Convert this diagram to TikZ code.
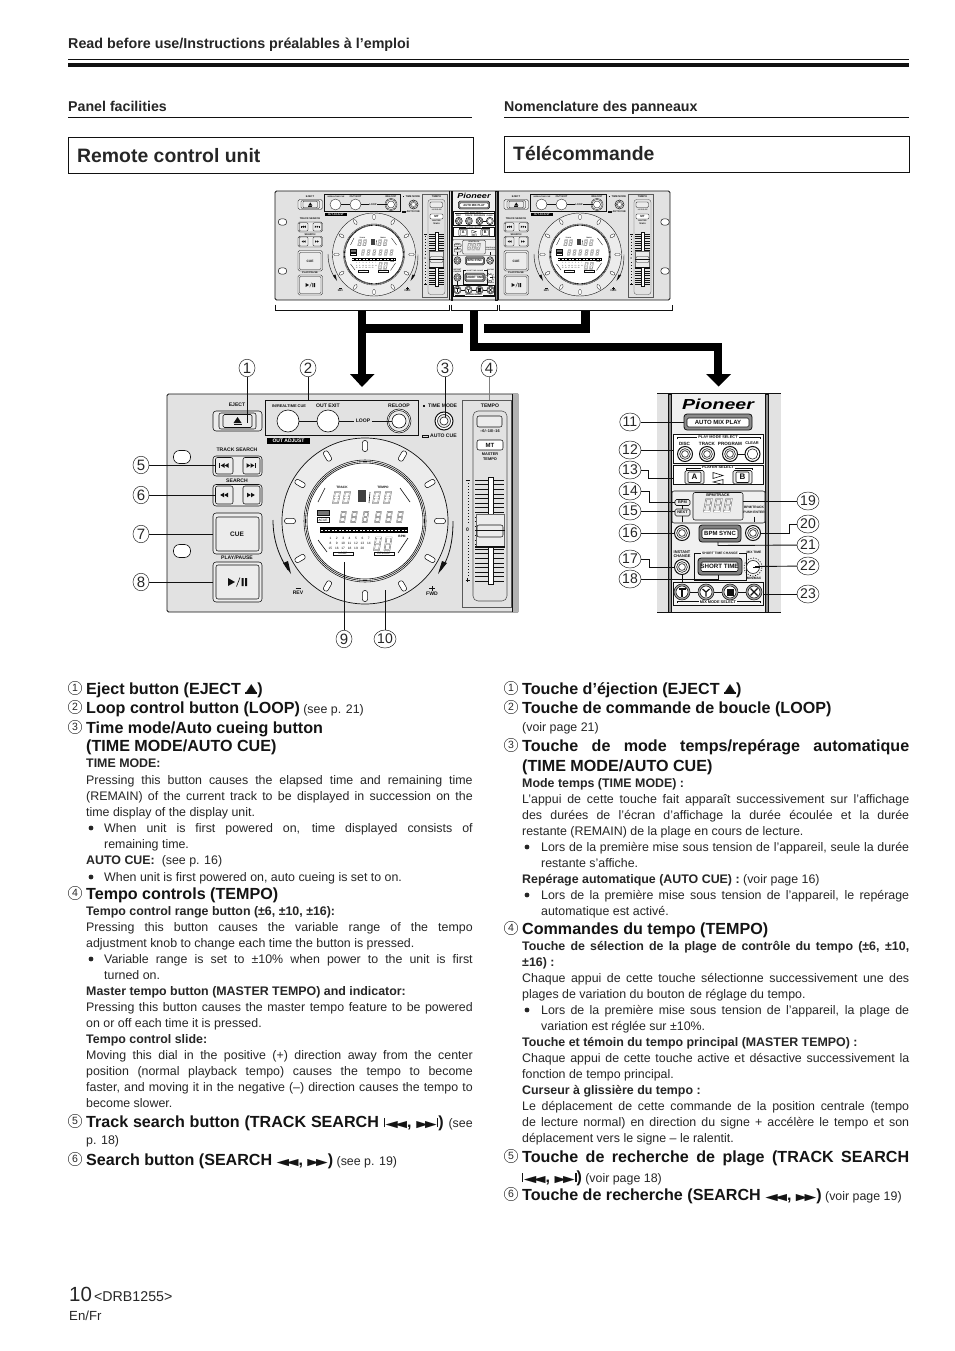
\documentclass[tikz,border=0pt]{standalone}
\usepackage{fontspec}
\usepackage{graphicx}
\setmainfont{Liberation Sans}
\newfontfamily\djf{DejaVu Sans}
\definecolor{tx}{HTML}{262626}
\definecolor{pg}{HTML}{E2E2E2}
\definecolor{ln}{HTML}{111111}
\definecolor{btn}{HTML}{ECECEC}
\newcounter{tn}
\def\lwf{1}
\def\bsl{4.3}
\def\hsl{6.2}
\newcommand\hb{\fontsize{16.1}{18}\selectfont\bfseries\color{black!92}}
\newcommand\tl[3]{\stepcounter{tn}\node[txt] (tl\arabic{tn}) at (#1,#2+\bsl) {#3};}
\newcommand\hl[3]{\stepcounter{tn}\node[txt] (tl\arabic{tn}) at (#1,#2+\hsl) {\hb #3};}
\newcommand\jl[4]{\stepcounter{tn}\node[txt] (tl\arabic{tn}) at (#1,#2+\bsl) {\hbox to #3pt{\spaceskip=.28em plus 1fil minus .08em\relax #4}};}
\newcommand\jh[4]{\stepcounter{tn}\node[txt] (tl\arabic{tn}) at (#1,#2+\hsl) {\hbox to #3pt{\hb\spaceskip=.28em plus 1fil minus .08em\relax #4}};}
\newcommand\tc[3]{\stepcounter{tn}\node[tcirc] (tc\arabic{tn}) at (#1,#2) {#3};}
\newcommand\bul[2]{\fill[tx] (#1,#2) circle[radius=2.4pt];}
\newcommand\ejs{\vbox{\hbox{\scalebox{1.25}[1]{\fontsize{12.5}{12}\djf ▲}}\kern-1.2pt\hrule height 1.8pt}}
\newcommand\twol{\scalebox{1.55}[.9]{\fontsize{10.5}{11}\djf ◀\kern-.2em◀}}
\newcommand\twor{\scalebox{1.45}[.9]{\fontsize{10.5}{11}\djf ▶\kern-.2em▶}}
\newcommand\prv{\rule{1.1pt}{.6em}\kern.5pt\twol}
\newcommand\nxt{\twor\kern.5pt\rule{1.1pt}{.6em}}
\newcommand\rf{\fontsize{12.4}{14}\selectfont\mdseries\color{tx}}
\newcommand\ttri[3]{\fill[ln] (#1,#2-2.3)--(#1+#3*3.8,#2)--(#1,#2+2.3)--cycle;}
\newcommand\knob[3]{%
  \draw[bt,fill=white,line width=\lwf*1pt] (#1,#2) circle[radius=#3pt];
  \draw[bt,fill=btn] (#1,#2) circle[radius=#3pt*.72];
  \draw[bt,fill=white] (#1,#2) circle[radius=#3pt*.45];}
\newcommand\segd[4]{%
  \foreach \pw/\pc in {1.35/black!65,.55/white}{
  \draw[line width=\lwf*\pw pt*#4,color=\pc,line join=miter]
    (#1+2*#4,#2) -- (#1+7*#4,#2) -- (#1+5*#4,#2+#3) -- (#1,#2+#3) -- cycle
    (#1+1*#4,#2+#3/2) -- (#1+6*#4,#2+#3/2);}}
\newcommand\bkt[3]{\draw[bl] (#1,#3+1.5)--(#1,#3)--(#2,#3)--(#2,#3+1.5);}
\newcommand\callout[7]{% name x y text style endx endy
  \node[#5] (#1) at (#2,#3) {#4}; \coordinate (#1e) at (#6,#7); \draw[cl] (#1) -- (#1e);}
\usetikzlibrary{shapes.geometric}
\tikzset{
  txt/.style={anchor=base west,inner sep=0pt,text=tx,font=\fontsize{12.4}{14}\selectfont},
  tcirc/.style={circle,draw=tx,line width=.45pt,inner sep=0pt,minimum size=13.5pt,text=tx,font=\fontsize{10.5}{11}\selectfont},
  co/.style={ellipse,draw=tx,line width=.5pt,inner sep=0pt,minimum width=16pt,minimum height=17.5pt,text=tx,font=\fontsize{15}{15}\selectfont},
  coo/.style={ellipse,draw=tx,line width=.5pt,inner sep=0pt,minimum width=20pt,minimum height=18pt,text=tx,font=\fontsize{14}{14}\selectfont},
  cl/.style={draw=ln,line width=.9pt},
  lab/.style={inner sep=0pt,text=ln,font=\fontsize{5.1}{6}\selectfont\bfseries},
  labt/.style={inner sep=0pt,text=ln,font=\fontsize{4.6}{6}\selectfont\bfseries},
  labs/.style={inner sep=0pt,text=ln,font=\fontsize{3.9}{5}\selectfont\bfseries},
  labx/.style={inner sep=0pt,text=ln,font=\fontsize{3.3}{4}\selectfont\bfseries},
  tiny/.style={inner sep=0pt,text=ln,font=\fontsize{3.2}{4}\selectfont},
  bt/.style={draw=ln,line width=\lwf*.55pt,fill=btn},
  bl/.style={draw=ln,line width=\lwf*.6pt},
  rr/.style={rounded corners=\lwf*#1pt},
  hk/.style={line width=8.5pt,draw=black},
}

\newcommand\deckparts[1]{%
  % eject
  \node[lab] (#1-ej) at (237,405) {EJECT};
  \draw[bt,rr=3] (213,411) rectangle (262,431);
  \draw[bt,rr=2] (219,413) rectangle (256,429);
  \draw[bt,rr=1.5] (223,414.5) rectangle (252,427.5);
  \fill[ln] (233.5,423)--(237.5,417)--(241.5,423)--cycle;
  \fill[ln] (233.5,424)rectangle(241.5,425.3);
  % loop box
  \draw[bt,fill=pg] (265,400) rectangle (418,435);
  \node[labs] (#1-in) at (289,406) {IN/REALTIME CUE};
  \node[lab] (#1-oe) at (328,406) {OUT EXIT};
  \node[lab] (#1-rl) at (399,406) {RELOOP};
  \node[draw=ln,fill=white,circle,minimum size=22pt,inner sep=0pt,line width=\lwf*.6pt,transform shape] (#1-bin) at (288,421) {};
  \node[draw=ln,fill=white,circle,minimum size=22pt,inner sep=0pt,line width=\lwf*.6pt,transform shape] (#1-bout) at (328,421) {};
  \draw[bl] (#1-bin) -- (#1-bout);
  \node[lab,inner xsep=1.5pt] (#1-lp) at (363,421) {LOOP};
  \draw[bl] (#1-bout) -- (#1-lp);
  \draw[bt,fill=white] (399,421) circle[radius=12pt];
  \draw[bt,fill=btn] (399,421) circle[radius=10.5pt];
  \node[draw=ln,fill=white,circle,minimum size=14pt,inner sep=0pt,line width=\lwf*.6pt,transform shape] (#1-brl) at (399,421) {};
  \draw[bl] (#1-lp) -- (#1-brl);
  \node[fill=black,text=white,inner sep=0pt,minimum width=43pt,minimum height=6.5pt,font=\fontsize{5}{6}\selectfont\bfseries] (#1-oa) at (288.5,441) {OUT ADJUST};
  % track search
  \node[lab] (#1-ts) at (237,450) {TRACK SEARCH};
  \draw[bt,rr=3] (213,456) rectangle (262,476);
  \draw[bt,rr=2] (215.5,457.5) rectangle (233,474);
  \draw[bt,rr=2] (243,457.5) rectangle (260,474);
  \fill[ln] (219,463.2) rectangle (220,467.8);
  \ttri{224.5}{465.5}{-1} \ttri{228.5}{465.5}{-1}
  \ttri{246.5}{465.5}{1} \ttri{250.5}{465.5}{1}
  \fill[ln] (255,463.2) rectangle (256,467.8);
  \node[lab] (#1-se) at (237,481) {SEARCH};
  \draw[bt,rr=3] (213,484.5) rectangle (262,506);
  \draw[bt,rr=2] (215.5,486) rectangle (233,504);
  \draw[bt,rr=2] (243,486) rectangle (260,504);
  \ttri{224}{495}{-1} \ttri{228}{495}{-1}
  \ttri{247}{495}{1} \ttri{251}{495}{1}
  % cue
  \draw[bt,rr=3] (213,513) rectangle (262,554);
  \draw[bt,rr=2] (216,517) rectangle (259,551);
  \node[inner sep=0pt,text=ln,font=\fontsize{6.5}{7}\selectfont\bfseries] (#1-cue) at (237,534) {CUE};
  \node[lab] (#1-pp) at (237,558) {PLAY/PAUSE};
  \draw[bt,rr=3] (213,562) rectangle (262,602);
  \draw[bt,rr=2] (216,565) rectangle (259,599);
  \fill[ln] (228,578)--(235,582)--(228,586)--cycle;
  \draw[bl] (236.5,586.5)--(240,577.5);
  \fill[ln] (241.5,578) rectangle (243.5,586) (245,578) rectangle (247,586);
  % jog wheel
  \draw[bt,fill=btn,line width=\lwf*.7pt] (365,521) circle[radius=83pt];
  \foreach \a in {0,30,...,330}{
    \draw[bt,fill=white,rr=2.4,rotate around={\a:(365,521)}] (362.4,440.5) rectangle (367.6,451.5);}
  \draw[bt,fill=white] (365,521) circle[radius=61pt];
  \draw[bl] (365,521) circle[radius=59.5pt] (365,521) circle[radius=58pt];
  % display
  \draw[bl] (318,502)--(325,488) (400,488)--(410,502) (318,540)--(327,552) (398,553)--(408,538);
  \node[tiny] (#1-dt) at (342,487) {\bfseries TRACK};
  \node[tiny] (#1-dm) at (383,487) {\bfseries TEMPO};
  \segd{333}{492}{11}{1.0} \segd{343}{492}{11}{1.0}
  \fill[black!75] (358,490) rectangle (366,502);
  \draw[bl] (370,492)--(369,503);
  \segd{373}{492}{11}{1.0} \segd{384}{492}{11}{1.0}
  \draw[bt,fill=black!55] (317,510.5) rectangle (329,515.5);
  \draw[bt,fill=white] (317,517.5) rectangle (329,522.5);
  \node[tiny] (#1-ac) at (323,520) {ACUE};
  \foreach \xd/\nn in {340/a,351/b,362.5/c,375/d,386/e,397/f}{ \segd{\xd}{512}{10}{.85}}
  \fill[black] (320,527) rectangle (408,533);
  \draw[white,line width=\lwf*.5pt,dash pattern=on 2.2pt off 1.3pt] (321,530)--(407,530);
  \foreach \i in {1,...,7}{\node[tiny] (#1-na\i) at (324+6.4*\i,538) {\i};}
  \foreach \i/\p in {8/1,9/2,10/3,11/4,12/5,13/6,14/7}{\node[tiny] (#1-nb\i) at (324+6.4*\p,543) {\i};}
  \foreach \i/\p in {15/1,16/2,17/3,18/4,19/5,20/6}{\node[tiny] (#1-nc\i) at (324+6.4*\p,548) {\i};}
  \segd{374}{537.5}{12.5}{1.0} \segd{384.5}{537.5}{12.5}{1.0}
  \node[tiny] (#1-bpm) at (402,536) {\bfseries BPM};
  \draw[bt,fill=white] (333,552) rectangle (353,555.5);
  \node[tiny] (#1-lo) at (343,553.7) {LOOP};
  \draw[bt,fill=white] (374,552) rectangle (394,555.5);
  \node[tiny] (#1-rel) at (384,553.7) {RELOOP};
  % arrows
  \draw[draw=ln,line width=\lwf*.8pt] (273,520) .. controls (273,540) and (279,556) .. (288,570);
  \fill[ln] (283,563)--(288,561)--(291,574)--cycle;
  \draw[draw=ln,line width=\lwf*.8pt] (453,521) .. controls (453,540) and (450,556) .. (441,570);
  \fill[ln] (447,563)--(442,561)--(438,574)--cycle;
  \node[lab] (#1-rev) at (298,593) {REV};
  \draw[bl] (295.5,588)--(300.5,588);
  \node[lab] (#1-fwd) at (432,593.5) {FWD};
  \draw[bl] (429,588.5)--(435,588.5) (432,586)--(432,591);
  % time mode
  \fill[ln] (423,405) rectangle (425,407);
  \node[lab,anchor=west] (#1-tm) at (428,406) {TIME MODE};
  \knob{444}{421}{9}
  \draw[bl] (422,435) rectangle (428,437);
  \node[lab,anchor=west] (#1-au) at (430,436) {AUTO CUE};
  % tempo
  \draw[bt,draw=black!65,fill=pg,line width=\lwf*.8pt] (462,400) rectangle (511,607);
  \node[lab] (#1-te) at (490,406) {TEMPO};
  \draw[bt,fill=pg,draw=black!70,rr=5] (473,411) rectangle (507,601);
  \draw[bt,rr=2,fill=btn] (477,416) rectangle (502,427);
  \node[labs] (#1-rg) at (490,431) {--6/--10/--16};
  \draw[bt,rr=2,fill=white] (477,440) rectangle (503,450);
  \node[inner sep=0pt,text=ln,font=\fontsize{6}{7}\selectfont\bfseries] (#1-mt) at (490,445) {MT};
  \node[labs] (#1-ma) at (490,454) {MASTER};
  \node[labs] (#1-tp) at (490,459.5) {TEMPO};
  \foreach \k in {0,...,22}{\draw[draw=ln,line width=\lwf*.5pt] (475,480+4.6*\k)--(504,480+4.6*\k);}
  \draw[bt,fill=white] (488,477) rectangle (493,584);
  \draw[bt,fill=btn,draw=black!60] (476,514) rectangle (504,547);
  \draw[bt,rr=2,fill=btn] (477,525) rectangle (503,537);
  \draw[bl] (475,530.5)--(505,530.5);
  \draw[draw=ln,line width=\lwf*1.4pt] (475,547)--(505,547);
  \draw[draw=ln,line width=\lwf*.8pt,dash pattern=on 1pt off 2pt] (468,483)--(468,524) (468,536)--(468,577);
  \draw[bl] (465.5,480)--(470,480);
  \node[lab] (#1-z) at (467.5,530) {0};
  \draw[bl] (465.5,580)--(470,580) (467.7,578)--(467.7,582);
}

\newcommand\centerparts[1]{%
  \fill[white!94!black] (668,394) rectangle (768,612);
  \draw[draw=ln,fill=black!45,line width=\lwf*.5pt] (668,394) rectangle (671,612);
  \draw[draw=ln,fill=black!45,line width=\lwf*.5pt] (765,394) rectangle (768,612);
  \node[inner sep=0pt,text=black,font=\fontsize{14.5}{16}\selectfont\bfseries\itshape] (#1-pi) at (718,404) {\scalebox{1.35}[1]{Pioneer}};
  \draw[bt,rr=3,fill=black!45,line width=\lwf*.8pt] (684,414) rectangle (752,430);
  \draw[bt,rr=1.5,fill=white] (687,418) rectangle (749,427);
  \node[inner sep=0pt,text=ln,font=\fontsize{6}{7}\selectfont\bfseries] (#1-am) at (718,422.5) {AUTO MIX PLAY};
  \draw[bt,fill=white,line width=\lwf*.8pt] (673,434) rectangle (763,463);
  \bkt{677}{760}{437.5}
  \node[labs,fill=white,inner xsep=1pt] (#1-pm) at (718,437) {PLAY MODE SELECT};
  \node[labt] (#1-di) at (684.5,443.5) {DISC};
  \node[labt] (#1-tr) at (707,443.5) {TRACK};
  \node[labt] (#1-pr) at (730,443.5) {PROGRAM};
  \node[labs] (#1-cl) at (752,443.5) {CLEAR};
  \knob{685}{454}{7.5} \knob{707}{454}{7.5} \knob{730}{454}{7.5}
  \draw[bl] (737,454)--(745,454);
  \draw[bt,fill=white,line width=\lwf*1pt] (752.5,454) circle[radius=7.5pt];
  \draw[bt,fill=white] (752.5,454) circle[radius=5.2pt];
  \draw[bt,fill=white,line width=\lwf*.8pt] (673,465.5) rectangle (763,484.5);
  \bkt{686}{752}{468}
  \node[labs,fill=white,inner xsep=1pt] (#1-ps) at (718,467.5) {PLAYER SELECT};
  \draw[bt,rr=1.5,fill=btn] (685,470.5) rectangle (704,484);
  \draw[bt,rr=1,fill=white] (688,472) rectangle (701,482.5);
  \node[inner sep=0pt,text=ln,font=\fontsize{8}{8}\selectfont\bfseries] (#1-a) at (694.5,477.2) {A};
  \draw[bt,rr=1.5,fill=btn] (733,470.5) rectangle (752,484);
  \draw[bt,rr=1,fill=white] (736,472) rectangle (749,482.5);
  \node[inner sep=0pt,text=ln,font=\fontsize{8}{8}\selectfont\bfseries] (#1-b) at (742.5,477.2) {B};
  \draw[bl] (713,472.5)--(723,475.5)--(713,478.5)--cycle (723,479.5)--(713,482)--(723,484.5)--cycle;
  % display
  \draw[bt,fill=white!94!black,rr=2] (672,491) -- (765,491) -- (765,523) -- (672,523) -- cycle;
  \draw[bt,fill=btn,rr=2] (693,492.5) rectangle (743,520);
  \node[labs] (#1-bt) at (718,495.5) {BPM/TRACK};
  \segd{704}{499}{12.5}{1.1} \segd{714}{499}{12.5}{1.1} \segd{724}{499}{12.5}{1.1}
  \draw[bt,rr=1.5] (675,499.5) rectangle (690,505.5);
  \node[labs] (#1-bpm) at (682.5,502.5) {BPM};
  \draw[bt,rr=1.5] (675,509) rectangle (690,516);
  \node[labs] (#1-nx) at (682.5,512.5) {NEXT};
  \draw[bl] (682.5,505.5)--(682.5,509) (682.5,516)--(682.5,522);
  \node[labx] (#1-b2) at (754,507.5) {BPM/TRACK};
  \node[labx] (#1-pe) at (754,512) {PUSH ENTER};
  \draw[bl] (754,516.5)--(754,522);
  \knob{682}{533}{7.5}
  \draw[bt,rr=3,fill=black!50,line width=\lwf*.8pt] (699,525) rectangle (741,542);
  \draw[bt,rr=1.5,fill=white] (702,529) rectangle (738,538.5);
  \node[inner sep=0pt,text=ln,font=\fontsize{6}{7}\selectfont\bfseries] (#1-bs) at (720,533.7) {BPM SYNC};
  \knob{753}{533}{7.5}
  \node[labs] (#1-ic) at (682,552) {INSTANT};
  \node[labs] (#1-ic2) at (682,556.5) {CHANGE};
  \knob{682}{567}{7.5}
  \draw[bl] (682,574.5)--(682,582);
  \draw[bt,fill=white!94!black,line width=\lwf*.8pt] (694,553) rectangle (746,580);
  \node[labx,fill=white,inner xsep=1pt] (#1-st) at (720,553) {SHORT TIME CHANGE};
  \draw[bt,rr=3,fill=black!50,line width=\lwf*.8pt] (698,558) rectangle (742,575);
  \draw[bt,rr=1.5,fill=white] (701,562) rectangle (738,571.5);
  \node[inner sep=0pt,text=ln,font=\fontsize{6.2}{7}\selectfont\bfseries] (#1-sh) at (719.5,566.7) {SHORT TIME};
  \node[labx] (#1-mx) at (754,552.5) {MIX TIME};
  \draw[bt,fill=white] (753,567) circle[radius=6.5pt];
  \draw[draw=ln,line width=\lwf*.7pt,dash pattern=on 1pt off 1.6pt] (753,567) circle[radius=9pt];
  \draw[bl] (753,567)--(759.5,567);
  \node[labx] (#1-mm) at (754,578.5) {MIN/MAX};
  \draw[bt,fill=white!96!black,line width=\lwf*.8pt] (673,582) rectangle (763,605);
  \draw[bl] (682,592)--(754,592);
  \bkt{677}{760}{601.5}
  \node[labs,fill=white,inner xsep=1pt] (#1-ms) at (718,602.5) {MIX MODE SELECT};
  \foreach \xk in {682,706,730,754}{
    \draw[bt,fill=black!35] (\xk,592) circle[radius=8pt];
    \draw[bt,fill=white] (\xk,592) circle[radius=6pt];}
  \draw[draw=ln,line width=\lwf*1.2pt] (678.5,589)--(685.5,589) (682,589)--(682,596.5);
  \draw[draw=ln,line width=\lwf*1.2pt] (702.5,589)--(706,592)--(709.5,589) (706,592)--(706,596.5);
  \fill[ln] (726.5,588.5) rectangle (733.5,595.5);
  \draw[draw=ln,line width=\lwf*1.2pt] (750.5,588.5)--(757.5,595.5) (757.5,588.5)--(750.5,595.5);
}

\begin{document}
\begin{tikzpicture}[x=1pt,y=-1pt]
\fill[white] (0,0) rectangle (954,1351);
\useasboundingbox (0,0) rectangle (954,1351);
% ---------- page header
\node[txt,font=\fontsize{14.3}{15}\selectfont\bfseries] (hd) at (68,48.5) {Read before use/Instructions préalables à l’emploi};
\draw[line width=.9pt,ln] (68,59.5)--(909,59.5);
\draw[line width=4pt,ln] (68,65)--(909,65);
\node[txt,font=\fontsize{14.2}{15}\selectfont\bfseries] (pf) at (68,111.5) {Panel facilities};
\node[txt,font=\fontsize{14.2}{15}\selectfont\bfseries] (nd) at (504,111.5) {Nomenclature des panneaux};
\draw[line width=.7pt,ln] (68,117.5)--(472,117.5);
\draw[line width=.7pt,ln] (504,117.5)--(909,117.5);
\draw[line width=.8pt,ln] (68.5,137) rectangle (473,173.5);
\draw[line width=.8pt,ln] (504.5,136.5) rectangle (909.5,172.5);
\node[txt,font=\fontsize{19.4}{22}\selectfont\bfseries] (rc) at (77,162.5) {Remote control unit};
\node[txt,font=\fontsize{19.4}{22}\selectfont\bfseries] (tl) at (513,160.5) {Télécommande};

% ---------- overview panel
\fill[pg] (275,191) rectangle (670,300);
\begin{scope}[xshift=191.5pt,yshift=6pt,scale=.5,transform shape]
  \def\lwf{.55}
  \deckparts{ta}
\end{scope}
\begin{scope}[xshift=397.5pt,yshift=6pt,scale=.5,transform shape]
  \def\lwf{.55}
  \deckparts{tb}
\end{scope}
\fill[pg] (449,191) rectangle (499,300);
\begin{scope}[xshift=143.7pt,yshift=6pt,xscale=.46,yscale=.5,transform shape]
  \def\lwf{.55}
  \centerparts{tc}
\end{scope}
\draw[line width=1pt,ln] (449.5,191)--(449.5,300) (498,191)--(498,300);
\draw[line width=.9pt,ln] (276.5,300) -- (275,298.5) -- (275,192.5) -- (276.5,191) -- (668.5,191) -- (670,192.5) -- (670,298.5) -- (668.5,300) -- cycle;
\foreach \nm/\hx/\hy in {ha/282.5/222,hb/282.5/271,hc/665/222,hd/665/271}{
  \draw[line width=.5pt,ln,fill=white,rounded corners=3pt] (\hx-4.2,\hy-3.2) rectangle (\hx+4.2,\hy+3.2);}
\draw[line width=.9pt,ln] (275,304.5)--(275,310.5)--(449.5,310.5)--(449.5,304.5);
\draw[line width=.9pt,ln] (451.5,304.5)--(451.5,310.5)--(497,310.5)--(497,304.5);
\draw[line width=.9pt,ln] (499.5,304.5)--(499.5,310.5)--(672,310.5)--(672,304.5);

% ---------- thick arrows
\draw[hk] (362,311)--(362,375);
\fill[black] (350,374)--(374.5,374)--(362,387)--cycle;
\draw[hk] (362,328.5)--(463,328.5);
\draw[hk,line cap=butt] (484,328.5)--(589.5,328.5);
\draw[hk] (585.5,311)--(585.5,332.7);
\draw[hk] (474,311)--(474,351.2);
\draw[hk] (469.8,347)--(722,347);
\draw[hk] (718,343)--(718,375);
\fill[black] (706,374)--(731,374)--(718.5,386.5)--cycle;

% ---------- big deck
\draw[line width=.9pt,ln,fill=pg,rounded corners=1.5pt] (518,394)--(167,394)--(167,612)--(518,612);
\fill[black!30] (512,394.4) rectangle (518.5,611.6);
\draw[line width=.5pt,ln] (512,394.4)--(512,611.6);
\foreach \hy in {457,551}{
  \draw[line width=.6pt,ln,fill=white,rounded corners=6pt] (173.5,\hy-6.5) rectangle (190.5,\hy+6.5);}
\begin{scope}[transform shape]
  \deckparts{bg}
\end{scope}

% ---------- big centre
\fill[pg] (657,394) rectangle (781,612);
\begin{scope}[transform shape]
  \centerparts{ce}
\end{scope}
\draw[line width=.9pt,ln] (657,393.5)--(781,393.5) (657,612.5)--(781,612.5);

% ---------- call-outs deck
\callout{c1}{247}{368}{1}{co}{247}{423}
\callout{c2}{308}{368}{2}{co}{308}{400}
\callout{c3}{445}{368}{3}{co}{445}{417}
\node[co] (c4) at (489,368) {4}; \coordinate (c4e) at (489,400); \draw[draw=black!50,line width=.9pt] (c4)--(c4e);
\callout{c5}{141}{465}{5}{co}{215}{465}
\callout{c6}{141}{495}{6}{co}{215}{495}
\callout{c7}{141}{534}{7}{co}{213}{534}
\callout{c8}{141}{582}{8}{co}{213}{582}
\callout{c9}{344}{639}{9}{co}{344}{562}
\callout{c10}{385}{639}{10}{coo}{385}{590}
% ---------- call-outs centre
\callout{c11}{630}{422}{11}{coo}{684}{422}
\callout{c12}{630}{450}{12}{coo}{673}{450}
\node[coo] (c13) at (630,470) {13}; \coordinate (k13a) at (648,478); \coordinate (k13) at (673,478); \draw[cl] (c13) -| (k13a) -- (k13);
\node[coo] (c14) at (630,491) {14}; \coordinate (k14a) at (649,502); \coordinate (k14) at (675,502); \draw[cl] (c14) -| (k14a) -- (k14);
\callout{c15}{630}{511}{15}{coo}{675}{511}
\callout{c16}{630}{533}{16}{coo}{675}{533}
\node[coo] (c17) at (630,559) {17}; \coordinate (k17a) at (649,567); \coordinate (k17) at (675,567); \draw[cl] (c17) -| (k17a) -- (k17);
\node[coo] (c18) at (630,579) {18}; \coordinate (k18a) at (718,579); \coordinate (k18) at (718,575); \draw[cl] (c18) -- (k18a) -- (k18);
\callout{c19}{808}{501}{19}{coo}{743}{501}
\node[coo] (c20) at (808,524) {20}; \coordinate (k20a) at (789,533); \coordinate (k20) at (760.5,533); \draw[cl] (c20) -| (k20a) -- (k20);
\node[coo] (c21) at (808,545) {21}; \coordinate (k21a) at (718,545.5); \coordinate (k21) at (718,542); \draw[cl] (c21) -- (k21a) -- (k21);
\callout{c22}{808}{566}{22}{coo}{755}{566.5}
\callout{c23}{808}{594}{23}{coo}{763}{594}

% ---------- left column
\def\xA{86}\def\wA{386.5}\def\xB{104}\def\wB{368.5}
\tc{75}{688}{1}\hl{\xA}{688}{Eject button (EJECT \ejs)}
\tc{75}{707}{2}\hl{\xA}{707}{Loop control button (LOOP)\rf\ (see p. 21)}
\tc{75}{727}{3}\hl{\xA}{727}{Time mode/Auto cueing button}
\hl{\xA}{745}{(TIME MODE/AUTO CUE)}
\tl{\xA}{763}{\bfseries TIME MODE:}
\jl{\xA}{780}{\wA}{Pressing this button causes the elapsed time and remaining time}
\jl{\xA}{796}{\wA}{(REMAIN) of the current track to be displayed in succession on the}
\tl{\xA}{812}{time display of the display unit.}
\bul{91}{828}\jl{\xB}{828}{\wB}{When unit is first powered on, time displayed consists of}
\tl{\xB}{844}{remaining time.}
\tl{\xA}{860}{{\bfseries AUTO CUE:}\ \ (see p. 16)}
\bul{91}{877}\tl{\xB}{877}{When unit is first powered on, auto cueing is set to on.}
\tc{75}{893}{4}\hl{\xA}{893}{Tempo controls (TEMPO)}
\tl{\xA}{911}{\bfseries Tempo control range button (±6, ±10, ±16):}
\jl{\xA}{927}{\wA}{Pressing this button causes the variable range of the tempo}
\tl{\xA}{943}{adjustment knob to change each time the button is pressed.}
\bul{91}{959}\jl{\xB}{959}{\wB}{Variable range is set to ±10\% when power to the unit is first}
\tl{\xB}{975}{turned on.}
\tl{\xA}{991}{\bfseries Master tempo button (MASTER TEMPO) and indicator:}
\jl{\xA}{1007}{\wA}{Pressing this button causes the master tempo feature to be powered}
\tl{\xA}{1023}{on or off each time it is pressed.}
\tl{\xA}{1039}{\bfseries Tempo control slide:}
\jl{\xA}{1055}{\wA}{Moving this dial in the positive (+) direction away from the center}
\jl{\xA}{1071}{\wA}{position (normal playback tempo) causes the tempo to become}
\jl{\xA}{1087}{\wA}{faster, and moving it in the negative (–) direction causes the tempo to}
\tl{\xA}{1103}{become slower.}
\tc{75}{1121}{5}\jh{\xA}{1121}{\wA}{Track search button (TRACK SEARCH \prv, \nxt)\rf\ (see}
\tl{\xA}{1140}{p. 18)}
\tc{75}{1159}{6}\hl{\xA}{1159}{Search button (SEARCH \twol, \twor)\rf\ (see p. 19)}

% ---------- right column
\def\xC{522}\def\wC{387}\def\xD{541}\def\wD{368}
\tc{511}{688}{1}\hl{\xC}{688}{Touche d’éjection (EJECT \ejs)}
\tc{511}{707}{2}\hl{\xC}{707}{Touche de commande de boucle (LOOP)}
\tl{\xC}{727}{(voir page 21)}
\tc{511}{745}{3}\jh{\xC}{745}{\wC}{Touche de mode temps/repérage automatique}
\hl{\xC}{765}{(TIME MODE/AUTO CUE)}
\tl{\xC}{783}{\bfseries Mode temps (TIME MODE) :}
\jl{\xC}{799}{\wC}{L’appui de cette touche fait apparaît successivement sur l’affichage}
\jl{\xC}{815}{\wC}{des durées de l’écran d’affichage la durée écoulée et la durée}
\tl{\xC}{831}{restante (REMAIN) de la plage en cours de lecture.}
\bul{527}{847}\jl{\xD}{847}{\wD}{Lors de la première mise sous tension de l’appareil, seule la durée}
\tl{\xD}{863}{restante s’affiche.}
\tl{\xC}{879}{{\bfseries Repérage automatique (AUTO CUE) :} (voir page 16)}
\bul{527}{895}\jl{\xD}{895}{\wD}{Lors de la première mise sous tension de l’appareil, le repérage}
\tl{\xD}{911}{automatique est activé.}
\tc{511}{928}{4}\hl{\xC}{928}{Commandes du tempo (TEMPO)}
\jl{\xC}{946}{\wC}{\bfseries Touche de sélection de la plage de contrôle du tempo (±6, ±10,}
\tl{\xC}{962}{\bfseries ±16) :}
\jl{\xC}{978}{\wC}{Chaque appui de cette touche sélectionne successivement une des}
\tl{\xC}{994}{plages de variation du bouton de réglage du tempo.}
\bul{527}{1010}\jl{\xD}{1010}{\wD}{Lors de la première mise sous tension de l’appareil, la plage de}
\tl{\xD}{1026}{variation est réglée sur ±10\%.}
\tl{\xC}{1042}{\bfseries Touche et témoin du tempo principal (MASTER TEMPO) :}
\jl{\xC}{1058}{\wC}{Chaque appui de cette touche active et désactive successivement la}
\tl{\xC}{1074}{fonction de tempo principal.}
\tl{\xC}{1090}{\bfseries Curseur à glissière du tempo :}
\jl{\xC}{1106}{\wC}{Le déplacement de cette commande de la position centrale (tempo}
\jl{\xC}{1122}{\wC}{de lecture normal) en direction du signe + accélère le tempo et son}
\tl{\xC}{1138}{déplacement vers le signe – le ralentit.}
\tc{511}{1156}{5}\jh{\xC}{1156}{\wC}{Touche de recherche de plage (TRACK SEARCH}
\hl{\xC}{1176}{\prv, \nxt)\rf\ (voir page 18)}
\tc{511}{1194}{6}\hl{\xC}{1194}{Touche de recherche (SEARCH \twol, \twor)\rf\ (voir page 19)}

% ---------- footer
\node[txt,font=\fontsize{20.5}{24}\selectfont] (pn) at (69,1301) {10};
\node[txt,font=\fontsize{14.2}{15}\selectfont] (dr) at (94,1301) {<DRB1255>};
\node[txt,font=\fontsize{13.2}{15}\selectfont] (ef) at (69,1320) {En/Fr};
\end{tikzpicture}
\end{document}
